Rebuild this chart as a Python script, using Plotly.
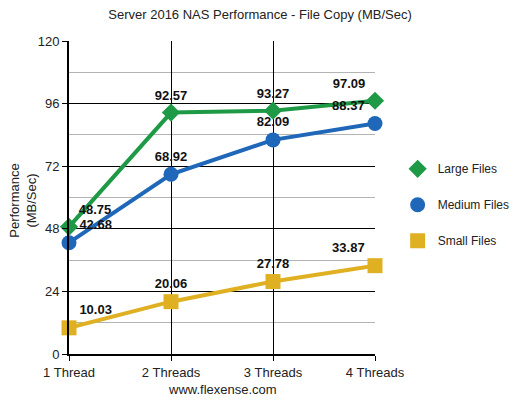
import plotly.graph_objects as go

threads = ["1 Thread", "2 Threads", "3 Threads", "4 Threads"]
large_files = [48.75, 92.57, 93.27, 97.09]
medium_files = [42.68, 68.92, 82.09, 88.37]
small_files = [10.03, 20.06, 27.78, 33.87]

LABEL_POS = ["top right", "top center", "top center", "top left"]
FONT = "Liberation Sans, Arial"

series = [
    ("Large Files", large_files, "#1e9a46", "diamond", 14),
    ("Medium Files", medium_files, "#1f67b9", "circle", 15),
    ("Small Files", small_files, "#e0b023", "square", 15),
]

fig = go.Figure()
for name, vals, color, symbol, size in series:
    fig.add_trace(go.Scatter(
        x=threads, y=vals, name=name, mode="lines+markers+text",
        line=dict(color=color, width=4),
        marker=dict(symbol=symbol, size=size, color=color),
        text=[f"{v:.2f}" for v in vals], textposition=LABEL_POS,
        textfont=dict(family=FONT, size=13, color="#111"),
        texttemplate="<b>%{text}</b>",
        cliponaxis=False, showlegend=False,
    ))
    # legend-only entry: marker without the long line stub
    fig.add_trace(go.Scatter(
        x=[None], y=[None], name=name, mode="markers", legendgroup=name,
        marker=dict(symbol=symbol, size=size, color=color),
    ))

fig.update_layout(
    width=520, height=401,
    margin=dict(l=69, r=145, t=41, b=47, autoexpand=False),
    paper_bgcolor="white", plot_bgcolor="white",
    font=dict(family=FONT, size=13, color="#222"),
    title=dict(text="Server 2016 NAS Performance - File Copy (MB/Sec)",
               x=0.5, xanchor="center", y=0.975, font=dict(size=13)),
    legend=dict(x=1.074, y=0.638, xanchor="left", yanchor="top",
                tracegroupgap=17, itemwidth=30,
                font=dict(size=12, color="#222")),
    xaxis=dict(
        showgrid=True, gridcolor="black", gridwidth=1,
        showline=True, linecolor="black", linewidth=2,
        ticks="outside", ticklen=5, tickcolor="black",
        range=[0, 3], automargin=False,
    ),
    yaxis=dict(
        range=[0, 120], dtick=24, tick0=0,
        showgrid=True, gridcolor="black", gridwidth=1,
        showline=True, linecolor="black", linewidth=2,
        ticks="outside", ticklen=5, tickcolor="black",
        minor=dict(dtick=12, tick0=0, showgrid=True, gridcolor="#b4b4b4", gridwidth=1),
        zeroline=False, automargin=False,
    ),
    annotations=[
        dict(text="www.flexense.com", xref="paper", yref="paper", x=0.5, y=-0.115,
             xanchor="center", yanchor="middle", showarrow=False, font=dict(size=13)),
        dict(text="Performance<br>(MB/Sec)", xref="paper", yref="paper", x=-0.15, y=0.49,
             xanchor="center", yanchor="middle", textangle=-90, showarrow=False,
             font=dict(size=13)),
    ],
)

# the page's default 8px body margin would shift the whole chart
fig.write_html("out.html", config={"displayModeBar": False},
               post_script="document.body.style.margin='0';")
